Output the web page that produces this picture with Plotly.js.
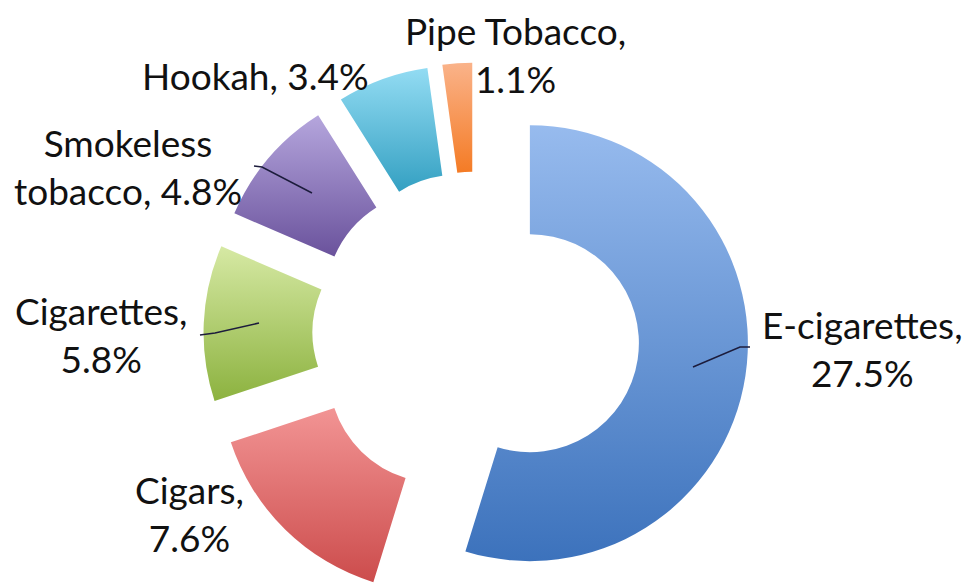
<!DOCTYPE html>
<html><head><meta charset="utf-8">
<script src="https://cdn.plot.ly/plotly-3.0.1.min.js"></script>
<style>html,body{margin:0;padding:0;overflow:hidden;background:#fff}#chart{width:971px;height:620px}</style>
</head><body><div id="chart"></div>
<script>
// ---- data ----
const categories = ['E-cigarettes', 'Cigars', 'Cigarettes', 'Smokeless tobacco', 'Hookah', 'Pipe Tobacco'];
const values = [27.5, 7.6, 5.8, 4.8, 3.4, 1.1];
const labelText = ['E-cigarettes,', 'Cigars,', 'Cigarettes,', 'Smokeless<br>tobacco,', 'Hookah,', 'Pipe Tobacco,'];
const labelBreak = ['<br>', '<br>', '<br>', ' ', ' ', '<br>'];

// ---- styles / layout ----
const colors = ['#6F9CDD', '#E06F6E', '#B7D57A', '#9381C4', '#5BC3E3', '#F7954F'];
const gradTop = ['#97BBEE', '#F29494', '#D6E9A4', '#B5A6DD', '#93DCF3', '#FAB38A'];
const gradBot = ['#3C72BC', '#CC4C4C', '#8CB23F', '#6A529C', '#34A0C2', '#F47B25'];
const W = 971, H = 620;
const labelPos = [[862, 348], [189, 513], [101, 334], [128, 166], [255, 75], [515, 54]];
const leaders = [[[693, 367], [740, 347], [750, 347]], null, [[259, 323], [215, 333], [200, 335]],
                 [[312, 193], [262, 167], [254, 166]], null, null];
const cx = 476, cy = 335, half = 272.5;

const px = x => x / W, py = y => 1 - y / H;

const annotations = categories.map((c, i) => ({
  xref: 'paper', yref: 'paper', x: px(labelPos[i][0]), y: py(labelPos[i][1]),
  xanchor: 'center', yanchor: 'middle', showarrow: false, align: 'center',
  text: labelText[i] + labelBreak[i] + values[i].toFixed(1) + '%',
  font: {family: 'Lato, sans-serif', size: 37, color: '#111'}
}));

const shapes = [];
leaders.forEach(l => {
  if (!l) return;
  const d = 'M ' + l.map(p => px(p[0]) + ',' + py(p[1])).join(' L ');
  shapes.push({type: 'path', xref: 'paper', yref: 'paper', path: d,
               line: {color: '#1c1c3c', width: 1.5}});
});

const trace = {
  type: 'pie', labels: categories, values: values, sort: false,
  direction: 'clockwise', rotation: 0, hole: 0.5, pull: 0.25,
  marker: {colors: colors, line: {width: 0}},
  textinfo: 'none', hoverinfo: 'skip', showlegend: false,
  domain: {x: [(cx - half) / W, (cx + half) / W], y: [(H - (cy + half)) / H, (H - (cy - half)) / H]}
};

const layout = {
  width: W, height: H, margin: {l: 0, r: 0, t: 0, b: 0},
  paper_bgcolor: '#fff', plot_bgcolor: '#fff',
  annotations: annotations, shapes: shapes, showlegend: false
};

Plotly.newPlot('chart', [trace], layout, {displayModeBar: false, staticPlot: true}).then(gd => {
  const svg = gd.querySelector('.main-svg');
  const NS = 'http://www.w3.org/2000/svg';
  let defs = svg.querySelector('defs');
  if (!defs) { defs = document.createElementNS(NS, 'defs'); svg.insertBefore(defs, svg.firstChild); }
  colors.forEach((c, i) => {
    const g = document.createElementNS(NS, 'linearGradient');
    g.setAttribute('id', 'sliceGrad' + i);
    g.setAttribute('x1', '0'); g.setAttribute('y1', '0'); g.setAttribute('x2', '0'); g.setAttribute('y2', '1');
    [[0, gradTop[i]], [1, gradBot[i]]].forEach(s => {
      const st = document.createElementNS(NS, 'stop');
      st.setAttribute('offset', s[0]); st.setAttribute('stop-color', s[1]);
      g.appendChild(st);
    });
    defs.appendChild(g);
  });
  gd.querySelectorAll('g.slice').forEach((sl, i) => {
    const p = sl.querySelector('path.surface');
    if (p) p.style.fill = 'url(#sliceGrad' + i + ')';
  });
});
</script>
</body></html>
